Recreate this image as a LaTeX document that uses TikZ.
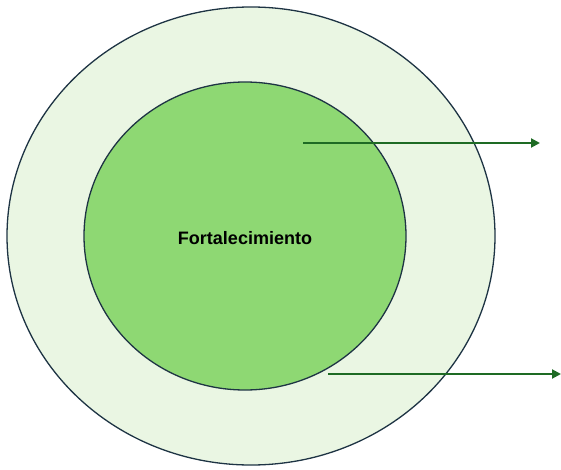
\documentclass[tikz,border=0pt]{standalone}
\usepackage{fontspec}
\setmainfont{Liberation Sans}
\usetikzlibrary{shapes, arrows.meta, positioning}
\definecolor{exterior}{HTML}{EAF6E3}
\definecolor{interior}{HTML}{8ED873}
\definecolor{borde}{HTML}{1E3444}
\definecolor{flecha}{HTML}{1E6B24}
\tikzstyle{capa} = [draw=borde, line width=1.3pt, ellipse, inner sep=0pt]
\tikzstyle{salida} = [draw=flecha, line width=2pt, -{Triangle[length=9pt,width=9pt]}]

\begin{document}
\begin{tikzpicture}[x=1pt, y=-1pt]
	\useasboundingbox (0,0) rectangle (561,470);
	\node [capa, fill=exterior, minimum width=488pt, minimum height=458pt] (entorno) at (251,236) {};
	\node [capa, fill=interior, minimum width=322pt, minimum height=308pt] (nucleo) at (245,236) {};
	\node [font=\bfseries\fontsize{18}{21}\selectfont] (titulo) at (245,238) {Fortalecimiento};
	% flechas hacia fuera
	\coordinate (origen1) at (303,143);
	\coordinate (destino1) at (540,143);
	\coordinate (origen2) at (328,374);
	\coordinate (destino2) at (561,374);
	\draw [salida] (origen1) -- (destino1);
	\draw [salida] (origen2) -- (destino2);
\end{tikzpicture}
\end{document}
